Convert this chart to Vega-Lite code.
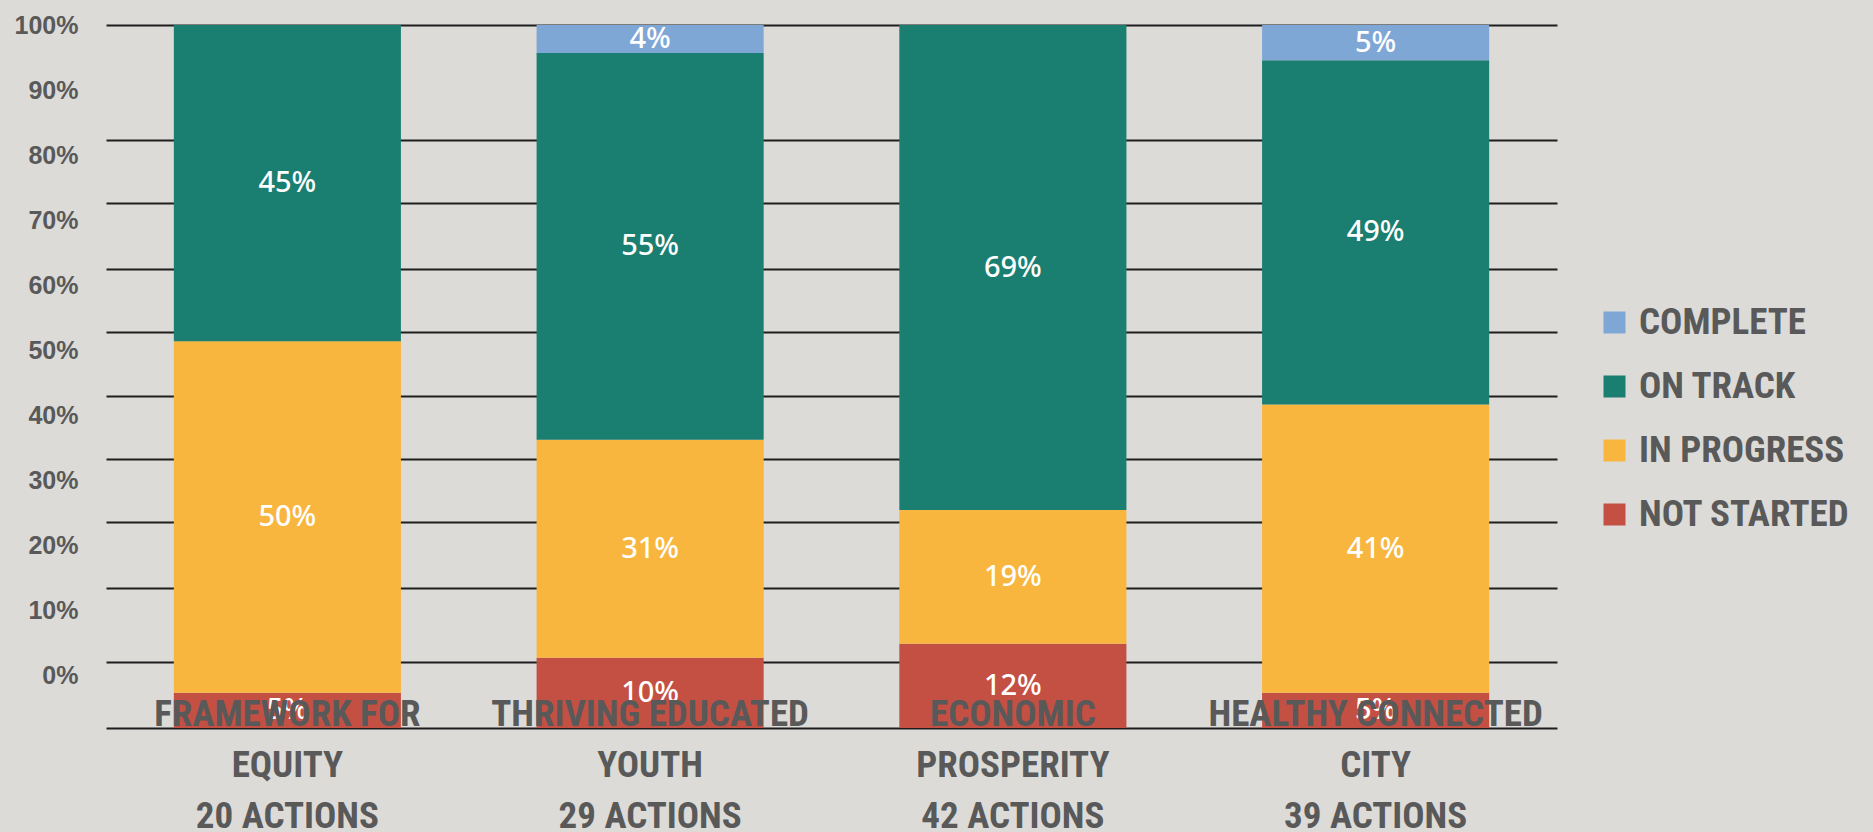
{
  "$schema": "https://vega.github.io/schema/vega-lite/v6.json",
  "width": 1451,
  "height": 703,
  "autosize": "none",
  "padding": {"left": 106, "top": 25, "right": 316, "bottom": 104},
  "background": "#dcdbd8",
  "config": {"view": {"stroke": null}},
  "data": {
    "values": [
      {"area": "FRAMEWORK FOR\nEQUITY\n20 ACTIONS", "status": "NOT STARTED", "stage": 0, "pct": 0.05},
      {"area": "FRAMEWORK FOR\nEQUITY\n20 ACTIONS", "status": "IN PROGRESS", "stage": 1, "pct": 0.50},
      {"area": "FRAMEWORK FOR\nEQUITY\n20 ACTIONS", "status": "ON TRACK", "stage": 2, "pct": 0.45},
      {"area": "THRIVING EDUCATED\nYOUTH\n29 ACTIONS", "status": "NOT STARTED", "stage": 0, "pct": 0.10},
      {"area": "THRIVING EDUCATED\nYOUTH\n29 ACTIONS", "status": "IN PROGRESS", "stage": 1, "pct": 0.31},
      {"area": "THRIVING EDUCATED\nYOUTH\n29 ACTIONS", "status": "ON TRACK", "stage": 2, "pct": 0.55},
      {"area": "THRIVING EDUCATED\nYOUTH\n29 ACTIONS", "status": "COMPLETE", "stage": 3, "pct": 0.04},
      {"area": "ECONOMIC\nPROSPERITY\n42 ACTIONS", "status": "NOT STARTED", "stage": 0, "pct": 0.12},
      {"area": "ECONOMIC\nPROSPERITY\n42 ACTIONS", "status": "IN PROGRESS", "stage": 1, "pct": 0.19},
      {"area": "ECONOMIC\nPROSPERITY\n42 ACTIONS", "status": "ON TRACK", "stage": 2, "pct": 0.69},
      {"area": "HEALTHY CONNECTED\nCITY\n39 ACTIONS", "status": "NOT STARTED", "stage": 0, "pct": 0.05},
      {"area": "HEALTHY CONNECTED\nCITY\n39 ACTIONS", "status": "IN PROGRESS", "stage": 1, "pct": 0.41},
      {"area": "HEALTHY CONNECTED\nCITY\n39 ACTIONS", "status": "ON TRACK", "stage": 2, "pct": 0.49},
      {"area": "HEALTHY CONNECTED\nCITY\n39 ACTIONS", "status": "COMPLETE", "stage": 3, "pct": 0.05}
    ]
  },
  "resolve": {"scale": {"y": "independent"}, "axis": {"y": "independent"}},
  "layer": [
    {
      "layer": [
        {
          "mark": {"type": "bar"},
          "encoding": {
            "x": {
              "field": "area", "type": "nominal", "sort": null,
              "scale": {"paddingInner": 0.374, "paddingOuter": 0.187},
              "axis": {
                "title": null, "labelAngle": 0, "ticks": false, "domain": false, "zindex": 2,
                "labelExpr": "split(datum.label, '\\n')",
                "labelFont": "Roboto Condensed, Roboto, sans-serif",
                "labelFontWeight": "bold", "labelFontSize": 37, "labelColor": "#595959",
                "labelLineHeight": 51, "labelPadding": -32, "labelBaseline": "top", "labelLimit": 500
              }
            },
            "y": {
              "field": "pct", "type": "quantitative", "stack": "zero",
              "scale": {"domain": [0, 1], "nice": false},
              "axis": {
                "title": null, "labels": false, "ticks": false, "domain": false,
                "grid": true, "gridColor": "#1e1e1e", "gridWidth": 2, "gridOpacity": 1,
                "values": [0, 0.0939, 0.199, 0.293, 0.383, 0.472, 0.563, 0.653, 0.747, 0.836, 1.0]
              }
            },
            "order": {"field": "stage", "type": "quantitative"},
            "color": {
              "field": "status", "type": "nominal",
              "scale": {
                "domain": ["COMPLETE", "ON TRACK", "IN PROGRESS", "NOT STARTED"],
                "range": ["#7fa7d6", "#1a7e70", "#f8b63e", "#c45044"]
              },
              "legend": {
                "title": null, "orient": "none", "legendX": 1490, "legendY": 279,
                "symbolType": "square", "symbolSize": 484, "symbolStrokeWidth": 0, "symbolOpacity": 1,
                "labelFont": "Roboto Condensed, Roboto, sans-serif",
                "labelFontWeight": "bold", "labelFontSize": 37, "labelColor": "#595959",
                "labelOffset": 6, "rowPadding": 26, "labelLimit": 400
              }
            }
          }
        },
        {
          "mark": {"type": "text", "color": "white", "font": "Noto Sans", "fontSize": 29, "fontWeight": 500, "baseline": "middle"},
          "encoding": {
            "x": {"field": "area", "type": "nominal", "sort": null},
            "y": {"field": "pct", "type": "quantitative", "stack": "zero", "bandPosition": 0.5},
            "order": {"field": "stage", "type": "quantitative"},
            "detail": {"field": "status", "type": "nominal"},
            "text": {"field": "pct", "type": "quantitative", "format": ".0%"}
          }
        }
      ]
    },
    {
      "mark": {"type": "point", "opacity": 0},
      "encoding": {
        "y": {
          "datum": 0, "type": "quantitative",
          "scale": {"domain": [-0.08, 1], "nice": false},
          "axis": {
            "orient": "left", "title": null, "grid": false, "ticks": false, "domain": false,
            "values": [0, 0.1, 0.2, 0.3, 0.4, 0.5, 0.6, 0.7, 0.8, 0.9, 1],
            "format": ".0%", "labelPadding": 28,
            "labelFont": "Liberation Sans, sans-serif",
            "labelFontWeight": "bold", "labelFontSize": 25, "labelColor": "#595959"
          }
        }
      }
    }
  ]
}
